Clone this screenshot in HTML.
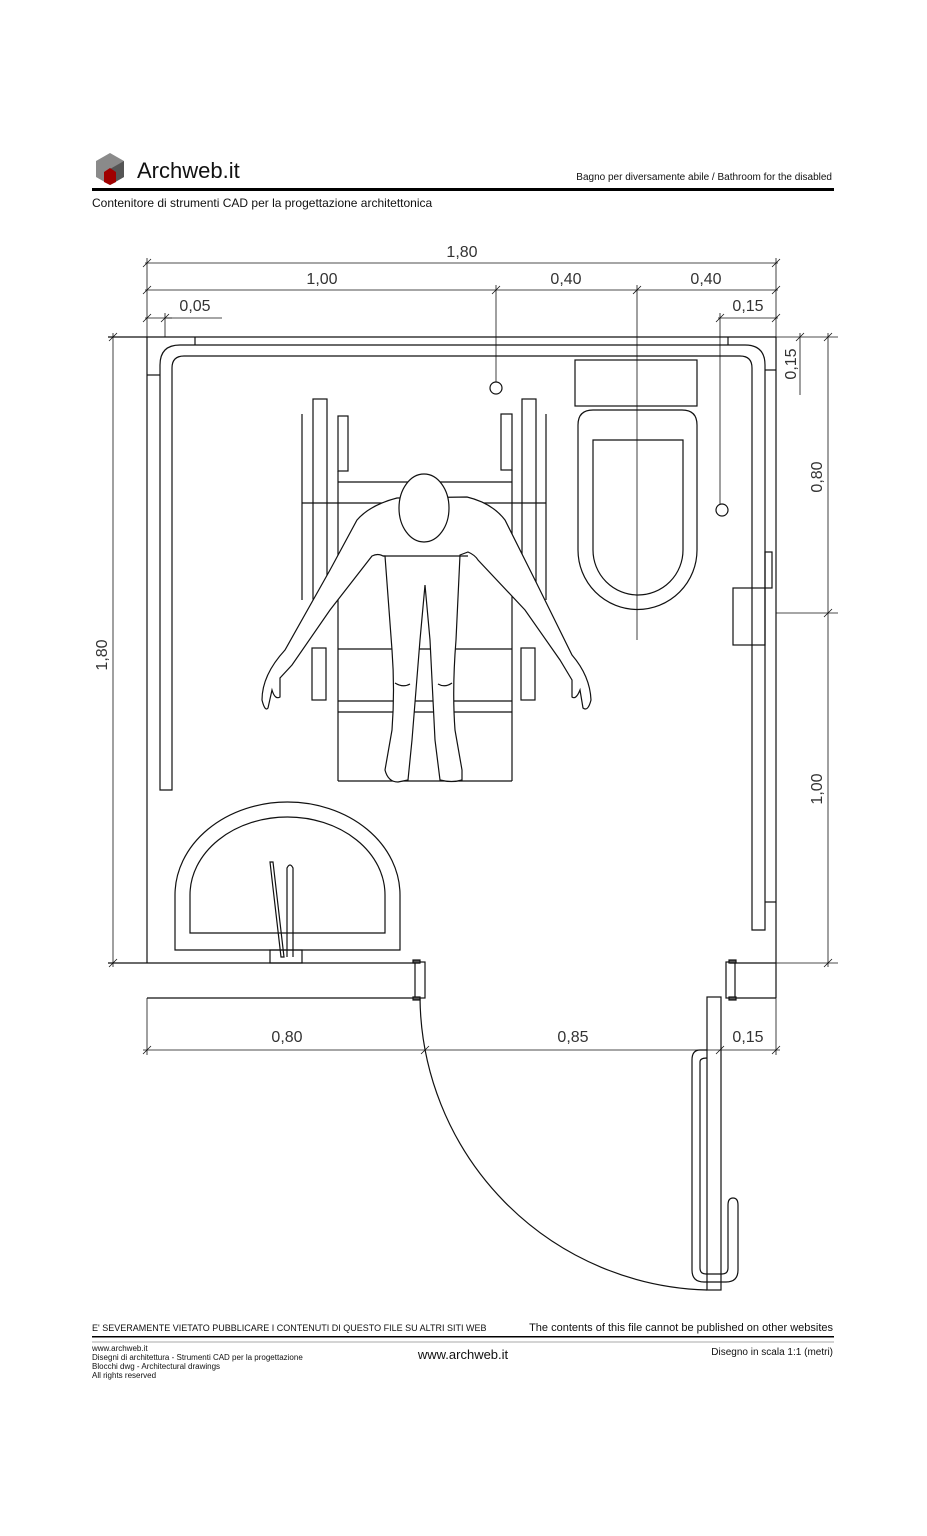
<!DOCTYPE html>
<html><head><meta charset="utf-8"><style>
body{margin:0;background:#fff;}
svg{display:block;font-family:"Liberation Sans",sans-serif;}
</style></head><body>
<svg width="927" height="1536" viewBox="0 0 927 1536" xmlns="http://www.w3.org/2000/svg">
<rect width="927" height="1536" fill="#fff"/>
<polygon points="110,153 124,161 124,177 110,185 96,177 96,161" fill="#8a8a8a"/>
<polygon points="110,169 124,161 124,177 110,185" fill="#555"/>
<polygon points="104,172 110,168 116,172 116,182 110,185 104,182" fill="#a00000"/>
<text x="137" y="178" font-size="22" fill="#111">Archweb.it</text>
<text x="832" y="180" font-size="10" text-anchor="end" fill="#111">Bagno per diversamente abile  /  Bathroom for the disabled</text>
<rect x="92" y="188" width="742" height="3" fill="#000"/>
<text x="92" y="207" font-size="12" fill="#111">Contenitore di strumenti CAD per la progettazione architettonica</text>

<g stroke="#111" stroke-width="1.2" fill="none">
<line x1="145" y1="263" x2="778" y2="263" stroke-width="0.8"/>
<line x1="145" y1="290" x2="778" y2="290" stroke-width="0.8"/>
<line x1="145" y1="318" x2="172" y2="318" stroke-width="0.8"/>
<line x1="165" y1="318" x2="222" y2="318" stroke-width="0.8"/>
<line x1="718" y1="318" x2="778" y2="318" stroke-width="0.8"/>
<line x1="147" y1="258" x2="147" y2="337" stroke-width="0.8"/>
<line x1="776" y1="258" x2="776" y2="337" stroke-width="0.8"/>
<line x1="165" y1="313" x2="165" y2="337" stroke-width="0.8"/>
<line x1="496" y1="285" x2="496" y2="382" stroke-width="0.8"/>
<line x1="637" y1="285" x2="637" y2="640" stroke-width="0.8"/>
<line x1="720" y1="313" x2="720" y2="504" stroke-width="0.8"/>
<circle cx="496" cy="388" r="6"/>
<circle cx="722" cy="510" r="6"/>
<g stroke-width="0.8">
<line x1="143" y1="267" x2="151" y2="259"/><line x1="772" y1="267" x2="780" y2="259"/>
<line x1="143" y1="294" x2="151" y2="286"/><line x1="492" y1="294" x2="500" y2="286"/><line x1="633" y1="294" x2="641" y2="286"/><line x1="772" y1="294" x2="780" y2="286"/>
<line x1="143" y1="322" x2="151" y2="314"/><line x1="161" y1="322" x2="169" y2="314"/><line x1="716" y1="322" x2="724" y2="314"/><line x1="772" y1="322" x2="780" y2="314"/>
</g>
<line x1="828" y1="333" x2="828" y2="967" stroke-width="0.8"/>
<line x1="800" y1="333" x2="800" y2="395" stroke-width="0.8"/>
<line x1="776" y1="337" x2="838" y2="337" stroke-width="0.8"/>
<line x1="776" y1="613" x2="838" y2="613" stroke-width="0.8"/>
<line x1="776" y1="963" x2="838" y2="963" stroke-width="0.8"/>
<g stroke-width="0.8">
<line x1="824" y1="341" x2="832" y2="333"/><line x1="824" y1="617" x2="832" y2="609"/><line x1="824" y1="967" x2="832" y2="959"/>
<line x1="796" y1="341" x2="804" y2="333"/>
<line x1="109" y1="341" x2="117" y2="333"/><line x1="109" y1="967" x2="117" y2="959"/>
</g>
<line x1="113" y1="333" x2="113" y2="967" stroke-width="0.8"/>
<line x1="108" y1="337" x2="776" y2="337"/>
<line x1="108" y1="963" x2="147" y2="963"/>
<line x1="147" y1="337" x2="147" y2="963"/>
<line x1="147" y1="963" x2="420" y2="963"/>
<line x1="730" y1="963" x2="776" y2="963"/>
<line x1="776" y1="337" x2="776" y2="963"/>
<line x1="147" y1="998" x2="420" y2="998"/>
<line x1="735" y1="998" x2="776" y2="998"/>
<line x1="776" y1="963" x2="776" y2="998"/>
<rect x="415" y="962" width="10" height="36"/>
<rect x="726" y="962" width="9" height="36"/>
<rect x="413" y="960" width="7" height="3" fill="#555"/><rect x="413" y="997" width="7" height="3" fill="#555"/>
<rect x="729" y="960" width="7" height="3" fill="#555"/><rect x="729" y="997" width="7" height="3" fill="#555"/>
<path d="M160,790 V365 Q160,345 180,345 H745 Q765,345 765,365 V930 H752 V368 Q752,356 740,356 H184 Q172,356 172,368 V790 Z"/>
<line x1="195" y1="337" x2="195" y2="345"/><line x1="728" y1="337" x2="728" y2="345"/>
<line x1="147" y1="375" x2="160" y2="375"/><line x1="765" y1="370" x2="776" y2="370"/>
<line x1="765" y1="902" x2="776" y2="902"/>
<rect x="733" y="588" width="32" height="57"/>
<rect x="765" y="552" width="7" height="36"/>
<rect x="575" y="360" width="122" height="46"/>
<path d="M578,425 Q578,410 593,410 H682 Q697,410 697,425 V550 A59.5,59.5 0 0 1 578,550 Z"/>
<path d="M593,440 H683 V550 A45,45 0 0 1 593,550 Z"/>
<path d="M175,950 V895 A112.5,93 0 0 1 400,895 V950 Z"/>
<path d="M190,933 V895 A97.5,78 0 0 1 385,895 V933 Z"/>
<rect x="270" y="950" width="32" height="13"/>
<polygon points="270,862 273,862 284,957 281,957"/>
<path d="M287,957 V868 Q290,862 293,868 V957"/>
<rect x="707" y="997" width="14" height="293"/>
<path d="M420,998 A295,295 0 0 0 707,1290"/>
<path d="M707,1050 H700 Q692,1050 692,1060 V1270 Q692,1282 704,1282 H726 Q738,1282 738,1270 V1205 Q738,1198 733,1198 Q728,1198 728,1205 V1268 Q728,1274 722,1274 H706 Q700,1274 700,1268 V1062 Q700,1058 707,1058"/>
<line x1="143" y1="1050" x2="780" y2="1050" stroke-width="0.8"/>
<line x1="147" y1="998" x2="147" y2="1055" stroke-width="0.8"/>
<line x1="776" y1="998" x2="776" y2="1055" stroke-width="0.8"/>
<g stroke-width="0.8">
<line x1="143" y1="1054" x2="151" y2="1046"/><line x1="421" y1="1054" x2="429" y2="1046"/><line x1="716" y1="1054" x2="724" y2="1046"/><line x1="772" y1="1054" x2="780" y2="1046"/>
</g>
<line x1="302" y1="414" x2="302" y2="600"/><line x1="546" y1="414" x2="546" y2="600"/>
<rect x="313" y="399" width="14" height="200"/><rect x="522" y="399" width="14" height="200"/>
<rect x="338" y="416" width="10" height="55"/><rect x="501" y="414" width="11" height="56"/>
<line x1="338" y1="471" x2="338" y2="781"/><line x1="512" y1="470" x2="512" y2="781"/>
<line x1="338" y1="482" x2="512" y2="482"/><line x1="302" y1="503" x2="546" y2="503"/>
<line x1="338" y1="649" x2="512" y2="649"/><line x1="338" y1="701" x2="512" y2="701"/><line x1="338" y1="712" x2="512" y2="712"/><line x1="338" y1="781" x2="512" y2="781"/>
<rect x="312" y="648" width="14" height="52"/><rect x="521" y="648" width="14" height="52"/>
</g>
<g stroke="#111" stroke-width="1.2" fill="#fff">
<path d="M397,498 Q370,505 357,520 L330,570 L285,650 Q262,675 262,700 Q265,712 268,708 L272,690 Q275,700 280,697 L280,678 L292,665 L330,610 L372,556 Q378,553 383,556 L385,556 L392,650 Q395,690 392,730 L385,770 Q388,782 398,782 L408,780 Q410,760 412,740 L420,640 L425,585 L430,640 L435,740 L440,780 Q452,783 462,780 L462,770 L455,730 Q452,690 456,640 L460,555 L468,552 Q475,555 478,560 L525,610 L560,660 L572,680 L572,697 Q576,700 580,690 L583,708 Q588,712 591,700 Q590,676 572,655 L535,580 L505,520 Q492,503 467,497 Z"/>
<line x1="383" y1="556" x2="468" y2="556"/>
<ellipse cx="424" cy="508" rx="25" ry="34"/>
<path d="M395,683 Q403,688 410,684 M438,684 Q445,688 452,683" fill="none"/>
</g>
<g font-size="16" fill="#333" text-anchor="middle">
<text x="462" y="257">1,80</text>
<text x="322" y="284">1,00</text>
<text x="566" y="284">0,40</text>
<text x="706" y="284">0,40</text>
<text x="195" y="311">0,05</text>
<text x="748" y="311">0,15</text>
<text x="287" y="1042">0,80</text>
<text x="573" y="1042">0,85</text>
<text x="748" y="1042">0,15</text>
<text transform="translate(107,655) rotate(-90)">1,80</text>
<text transform="translate(822,477) rotate(-90)">0,80</text>
<text transform="translate(822,789) rotate(-90)">1,00</text>
<text transform="translate(796,364) rotate(-90)">0,15</text>
</g>
<text x="92" y="1331" font-size="9" fill="#111">E' SEVERAMENTE VIETATO PUBBLICARE I CONTENUTI DI QUESTO FILE SU ALTRI SITI WEB</text>
<text x="833" y="1331" font-size="11" text-anchor="end" fill="#111">The contents of this file cannot be published on other websites</text>
<rect x="92" y="1336" width="742" height="1.5" fill="#000"/>
<line x1="92" y1="1342" x2="834" y2="1342" stroke="#555" stroke-width="0.6"/>
<g font-size="8" fill="#111">
<text x="92" y="1351">www.archweb.it</text>
<text x="92" y="1360">Disegni di architettura - Strumenti CAD  per la progettazione</text>
<text x="92" y="1369">Blocchi dwg - Architectural drawings</text>
<text x="92" y="1378">All rights reserved</text>
</g>
<text x="463" y="1359" font-size="13" text-anchor="middle" fill="#111">www.archweb.it</text>
<text x="833" y="1355" font-size="10" text-anchor="end" fill="#111">Disegno in scala 1:1 (metri)</text>
</svg>
</body></html>
